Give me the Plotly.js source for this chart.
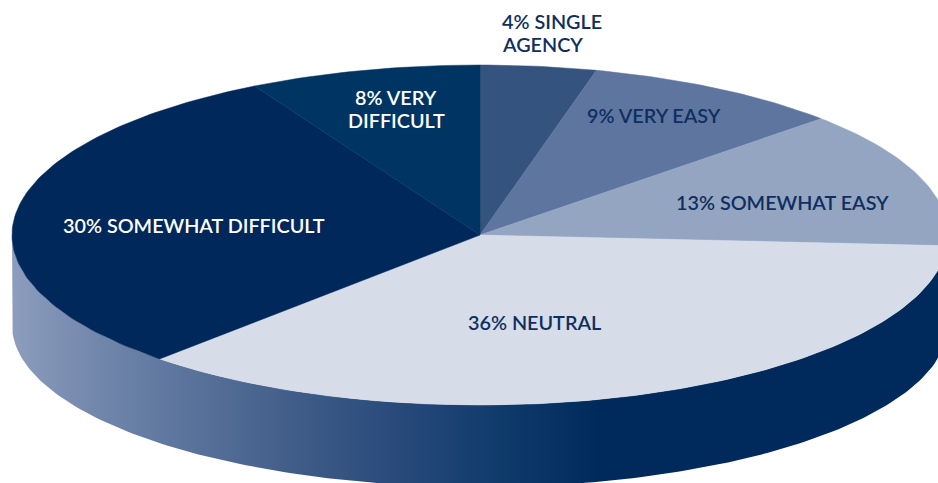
<!DOCTYPE html>
<html><head><meta charset="utf-8">
<script src="https://cdn.plot.ly/plotly-3.0.1.min.js"></script>
<style>html,body{margin:0;padding:0;background:#fff}#c{width:938px;height:483px}</style>
</head><body><div id="c"></div>
<script>
const categories = ["SINGLE AGENCY","VERY EASY","SOMEWHAT EASY","NEUTRAL","SOMEWHAT DIFFICULT","VERY DIFFICULT"];
const shares = [4,9,13,36,30,8];
const sliceColors = ["#34537f","#5e769f","#94a5c2","#d6dce8","#00285a","#003563"];
const labelTexts = ["4% SINGLE","AGENCY","9% VERY EASY","13% SOMEWHAT EASY","36% NEUTRAL","30% SOMEWHAT DIFFICULT","8% VERY","DIFFICULT"];
const labelColors = ["#0f2f60","#0f2f60","#0f2f60","#0f2f60","#0f2f60","#ffffff","#ffffff","#ffffff"];
const labelX = [500,500,654,782,534,193.5,396,396];
const labelY = [20.5,43.5,114.5,201.5,322,225,97,120];
const labelAnchor = ["left","left","center","center","center","center","center","center"];

const C = {cx:480, cy:235, rx:468, ry:170, cyB:325, ryB:162};
const rad = d => d*Math.PI/180;
const total = shares.reduce((a,b)=>a+b,0);
function arc(a0,a1,cy,ry){
  const xs=[],ys=[],n=Math.max(2,Math.ceil(Math.abs(a1-a0)));
  for(let i=0;i<=n;i++){const a=rad(a0+(a1-a0)*i/n);xs.push(C.cx+C.rx*Math.sin(a));ys.push(cy-ry*Math.cos(a));}
  return [xs,ys];
}
const traces=[];
// side wall: lower half of the top rim, joined to lower half of the base rim
const [tx,ty]=arc(90,270,C.cy,C.ry);
const [bx,by]=arc(270,90,C.cyB,C.ryB);
traces.push({type:"scatter",mode:"lines",x:tx.concat(bx),y:ty.concat(by),fill:"toself",
  line:{width:0,color:"rgba(0,0,0,0)"},hoverinfo:"skip",showlegend:false,
  fillgradient:{type:"horizontal",start:12,stop:938,colorscale:[
    [0,"#8c9dbd"],[0.095,"#7186ab"],[0.31,"#3f5c88"],[0.42,"#27497a"],[0.527,"#0f3b6b"],[0.635,"#002a5c"],[1,"#002a5c"]]}});
let cum=0;
shares.forEach((v,i)=>{
  const a0=cum/total*360; cum+=v; const a1=cum/total*360;
  const [x,y]=arc(a0,a1,C.cy,C.ry);
  traces.push({type:"scatter",mode:"lines",name:categories[i],x:[C.cx].concat(x,[C.cx]),y:[C.cy].concat(y,[C.cy]),
    fill:"toself",fillcolor:sliceColors[i],line:{width:0.5,color:sliceColors[i]},hoverinfo:"name",showlegend:false});
});
const annotations=labelTexts.map((t,i)=>({x:labelX[i],y:labelY[i],xref:"x",yref:"y",text:t,showarrow:false,
  xanchor:labelAnchor[i],yanchor:"middle",align:labelAnchor[i],
  font:{family:"Lato, sans-serif",size:19.8,weight:600,color:labelColors[i]}}));
Plotly.newPlot("c",traces,{width:938,height:483,margin:{l:0,r:0,t:0,b:0},showlegend:false,
  paper_bgcolor:"#fff",plot_bgcolor:"#fff",
  xaxis:{range:[0,938],visible:false,fixedrange:true},
  yaxis:{range:[483,0],visible:false,fixedrange:true},annotations},{staticPlot:true,displayModeBar:false});
</script></body></html>
